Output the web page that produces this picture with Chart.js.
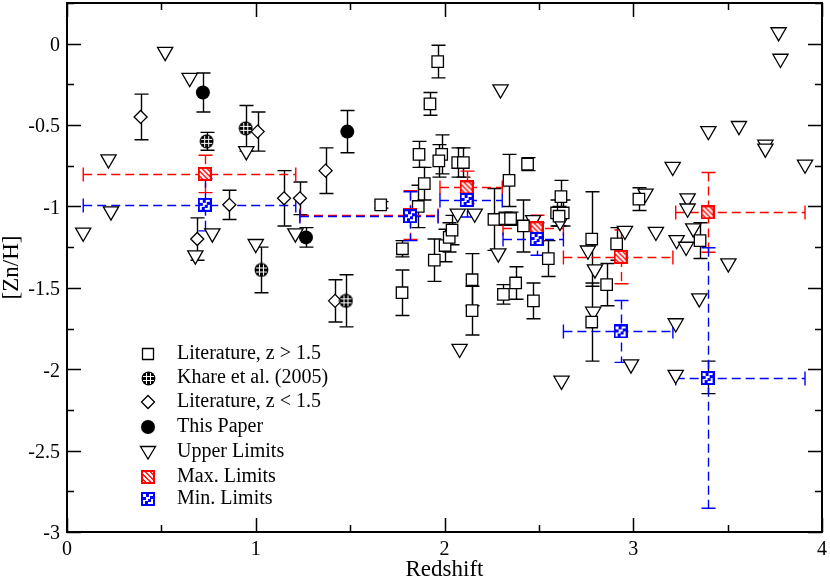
<!DOCTYPE html>
<html><head><meta charset="utf-8">
<script src="https://cdn.jsdelivr.net/npm/chart.js@4.4.0/dist/chart.umd.min.js"></script>
<style>html,body{margin:0;padding:0;background:#fff;}#wrap{width:830px;height:581px;}</style>
</head><body><div id="wrap"><canvas id="c" width="830" height="581"></canvas></div>
<script>
// ---------- DATA ----------
// Literature, z > 1.5 (squares): redshift, [Zn/H], error
const litHiX   = [1.964,1.923,1.865,1.985,1.970,2.070,2.100,2.440,2.342,1.893,1.861,1.662,1.777,1.946,2.003,2.025,2.040,2.262,2.320,2.350,2.418,2.550,2.617,2.594,2.629,2.607,2.146,2.146,1.775,2.312,2.377,2.471,2.780,2.780,2.912,2.859,3.030,3.354,3.394];
const litHiY   = [-0.11,-0.37,-0.68,-0.68,-0.72,-0.73,-0.73,-0.74,-0.84,-0.86,-1.00,-0.99,-1.26,-1.33,-1.24,-1.19,-1.145,-1.08,-1.075,-1.075,-1.12,-1.32,-0.94,-1.04,-1.04,-1.06,-1.45,-1.64,-1.53,-1.54,-1.47,-1.58,-1.20,-1.71,-1.23,-1.48,-0.955,-1.21,-2.05];
const litHiErr = [0.10,0.07,0.08,0.12,0.10,0.09,0.09,0.04,0.16,0.10,0.13,0.02,0.05,0.13,0.10,0.09,0.09,0.19,0.04,0.04,0.16,0.11,0.10,0.08,0.08,0.06,0.16,0.15,0.14,0.06,0.10,0.11,0.29,0.24,0.10,0.13,0.07,0.11,0.10];
// Khare et al. (2005)
const khareX   = [0.740,0.947,1.030,1.478];
const khareY   = [-0.60,-0.52,-1.39,-1.58];
const khareErr = [0.055,0.14,0.14,0.16];
// Literature, z < 1.5 (diamonds)
const litLoX   = [0.39,1.01,0.86,1.15,1.234,1.37,0.69,1.42];
const litLoY   = [-0.45,-0.54,-0.99,-0.95,-0.95,-0.78,-1.20,-1.58];
const litLoErr = [0.14,0.12,0.09,0.17,0.10,0.14,0.13,0.13];
// This Paper
const paperX   = [0.72,1.266,1.485];
const paperY   = [-0.30,-1.19,-0.54];
const paperErr = [0.12,0.06,0.13];
// Upper limits (triangles)
const upX = [0.086,0.22,0.233,0.52,0.65,0.68,0.77,0.95,1.00,1.21,2.297,2.07,2.16,2.285,2.08,2.47,2.612,2.62,2.76,2.797,2.788,2.956,2.988,3.065,3.12,3.23,3.28,3.318,3.288,3.288,3.225,3.225,3.35,3.504,3.209,3.398,3.56,3.70,3.70,3.91,3.77,3.78];
const upY = [-1.16,-0.71,-1.03,-0.05,-0.21,-1.30,-1.165,-0.66,-1.23,-1.165,-0.28,-1.043,-1.043,-1.288,-1.874,-1.083,-1.094,-2.07,-1.27,-1.386,-1.646,-1.149,-1.97,-0.92,-1.155,-1.206,-1.247,-1.134,-0.95,-1.012,-1.717,-2.034,-1.564,-1.349,-0.756,-0.536,-0.505,-0.62,-0.644,-0.742,0.071,-0.092];
// Max. limits (binned): centre, bin edges, error
const maxX   = [0.73,1.817,2.117,2.488,2.933,3.394];
const maxY   = [-0.80,-1.053,-0.883,-1.134,-1.31,-1.036];
const maxXLo = [0.086,1.234,1.976,2.31,2.63,3.225];
const maxXHi = [1.212,1.966,2.306,2.63,3.21,3.91];
const maxErr = [0.115,0.15,0.10,0.08,0.165,0.245];
// Min. limits (binned)
const minX   = [0.73,1.817,2.117,2.488,2.933,3.394];
const minY   = [-0.99,-1.06,-0.96,-1.20,-1.768,-2.054];
const minXLo = [0.086,1.234,1.976,2.31,2.63,3.225];
const minXHi = [1.212,1.966,2.306,2.63,3.21,3.91];
const minErr = [0.16,0.15,0.105,0.10,0.19,0.80];
// Axis ticks
const xTicks = [0,1,2,3,4];
const yTicks = [0,-0.5,-1,-1.5,-2,-2.5,-3];
const legendLabels = ['Literature, z > 1.5','Khare et al. (2005)','Literature, z < 1.5','This Paper','Upper Limits','Max. Limits','Min. Limits'];

// ---------- MARKER IMAGES ----------
function mk(w,h,fn){const c=document.createElement('canvas');c.width=w;c.height=h;const g=c.getContext('2d');fn(g);return c;}
const imgKhare = mk(15,15,g=>{g.beginPath();g.arc(7.5,7.5,6.9,0,Math.PI*2);g.fillStyle='#000';g.fill();g.fillStyle='#fff';[5,9].forEach(v=>{g.fillRect(v,2,1,11);g.fillRect(2,v,11,1);});});
const imgMax = mk(14,14,g=>{g.fillStyle='#ff0000';g.fillRect(0,0,14,14);g.save();g.beginPath();g.rect(2,2,10,10);g.clip();g.strokeStyle='#fff';g.lineWidth=2.2;g.beginPath();for(let k=-10;k<=10;k+=5){g.moveTo(k,0);g.lineTo(k+14,14);}g.stroke();g.restore();});
const imgMin = mk(14,14,g=>{g.fillStyle='#0000ff';g.fillRect(0,0,14,14);g.fillStyle='#fff';g.fillRect(2,2,10,10);g.fillStyle='#0000ff';[[2,5],[5,2],[7,7],[9,4],[4,9]].forEach(p=>g.fillRect(p[0],p[1],3,3));});

function pts(xs,ys){return xs.map((x,i)=>({x:x,y:ys[i]}));}

// ---------- PLUGINS ----------
const errPlugin = {
  id:'errbars',
  beforeDatasetsDraw(chart){
    const ctx=chart.ctx, xs=chart.scales.x, ys=chart.scales.y, a=chart.chartArea;
    ctx.save();
    ctx.beginPath();ctx.rect(a.left,a.top,a.right-a.left,a.bottom-a.top);ctx.clip();
    const cap=7;
    function vbar(x,y,e,color,dash){
      const px=Math.round(xs.getPixelForValue(x))+0.5, p1=ys.getPixelForValue(y+e), p2=ys.getPixelForValue(y-e);
      ctx.strokeStyle=color;ctx.lineWidth=1.4;
      ctx.setLineDash(dash||[]);ctx.beginPath();ctx.moveTo(px,p1);ctx.lineTo(px,p2);ctx.stroke();
      ctx.setLineDash([]);ctx.beginPath();ctx.moveTo(px-cap,p1);ctx.lineTo(px+cap,p1);ctx.moveTo(px-cap,p2);ctx.lineTo(px+cap,p2);ctx.stroke();
    }
    function hbar(y,lo,hi,color){
      const py=Math.round(ys.getPixelForValue(y))+0.5, q1=xs.getPixelForValue(lo), q2=xs.getPixelForValue(hi);
      ctx.strokeStyle=color;ctx.lineWidth=1.4;
      ctx.setLineDash([9,5]);ctx.beginPath();ctx.moveTo(q1,py);ctx.lineTo(q2,py);ctx.stroke();
      ctx.setLineDash([]);ctx.beginPath();ctx.moveTo(q1,py-cap);ctx.lineTo(q1,py+cap);ctx.moveTo(q2,py-cap);ctx.lineTo(q2,py+cap);ctx.stroke();
    }
    litHiX.forEach((x,i)=>vbar(x,litHiY[i],litHiErr[i],'#000'));
    khareX.forEach((x,i)=>vbar(x,khareY[i],khareErr[i],'#000'));
    litLoX.forEach((x,i)=>vbar(x,litLoY[i],litLoErr[i],'#000'));
    paperX.forEach((x,i)=>vbar(x,paperY[i],paperErr[i],'#000'));
    maxX.forEach((x,i)=>{hbar(maxY[i],maxXLo[i],maxXHi[i],'#ff0000');vbar(x,maxY[i],maxErr[i],'#ff0000',[9,5]);});
    minX.forEach((x,i)=>{hbar(minY[i],minXLo[i],minXHi[i],'#0000ff');vbar(x,minY[i],minErr[i],'#0000ff',[9,5]);});
    ctx.restore();
  }
};
function drawSym(ctx,kind,x,y){
  ctx.save();ctx.lineWidth=1.3;ctx.strokeStyle='#000';ctx.fillStyle='#fff';ctx.beginPath();
  if(kind==='sq'){ctx.rect(x-5.5,y-5.5,11,11);ctx.fill();ctx.stroke();}
  else if(kind==='di'){ctx.moveTo(x,y-6.5);ctx.lineTo(x+6.5,y);ctx.lineTo(x,y+6.5);ctx.lineTo(x-6.5,y);ctx.closePath();ctx.fill();ctx.stroke();}
  else if(kind==='ci'){ctx.arc(x,y,7,0,Math.PI*2);ctx.fillStyle='#000';ctx.fill();}
  else if(kind==='tr'){ctx.moveTo(x-7.5,y-5.5);ctx.lineTo(x+7.5,y-5.5);ctx.lineTo(x,y+7);ctx.closePath();ctx.fill();ctx.stroke();}
  ctx.restore();
}
const framePlugin = {
  id:'frame',
  afterDatasetsDraw(chart){
    const ctx=chart.ctx, xs=chart.scales.x, ys=chart.scales.y, a=chart.chartArea;
    ctx.save();ctx.strokeStyle='#000';ctx.lineWidth=1.5;ctx.beginPath();
    for(let v=0;v<=4.0001;v+=0.5){const px=Math.round(xs.getPixelForValue(v))+0.5;const L=(Math.abs(v-Math.round(v))<1e-6)?14:7;
      ctx.moveTo(px,a.bottom);ctx.lineTo(px,a.bottom-L);ctx.moveTo(px,a.top);ctx.lineTo(px,a.top+L);}
    for(let v=-3;v<=0.2501;v+=0.25){const py=Math.round(ys.getPixelForValue(v))+0.5;const L=(Math.abs(v*2-Math.round(v*2))<1e-6)?14:7;
      ctx.moveTo(a.left,py);ctx.lineTo(a.left+L,py);ctx.moveTo(a.right,py);ctx.lineTo(a.right-L,py);}
    ctx.stroke();
    ctx.lineWidth=2;ctx.strokeRect(a.left,a.top,a.right-a.left,a.bottom-a.top);
    // tick labels
    ctx.font='20px "Liberation Serif", "Times New Roman", serif';ctx.fillStyle='#000';ctx.textBaseline='alphabetic';
    ctx.textAlign='center';
    xTicks.forEach(v=>ctx.fillText(String(v),xs.getPixelForValue(v),a.bottom+23));
    ctx.textAlign='right';
    yTicks.forEach(v=>ctx.fillText(String(v),a.left-7,ys.getPixelForValue(v)+7.4));
    // legend
    const syms=['sq',imgKhare,'di','ci','tr',imgMax,imgMin];
    const rows=[354,378,402,427,452,477,499];
    syms.forEach((s,i)=>{ if(typeof s==='string') drawSym(ctx,s,148,rows[i]); else ctx.drawImage(s,Math.round(148-s.width/2),Math.round(rows[i]-s.height/2)); });
    ctx.textBaseline='middle';ctx.textAlign='left';
    legendLabels.forEach((t,i)=>ctx.fillText(t,177,rows[i]));
    ctx.restore();
  }
};

const common = {showLine:false,pointBorderWidth:1.3,pointBorderColor:'#000',pointBackgroundColor:'#fff'};
new Chart(document.getElementById('c'),{
  type:'scatter',
  data:{datasets:[
    Object.assign({},common,{label:legendLabels[6],data:pts(minX,minY),pointStyle:imgMin,pointRadius:6}),
    Object.assign({},common,{label:legendLabels[5],data:pts(maxX,maxY),pointStyle:imgMax,pointRadius:6}),
    Object.assign({},common,{label:legendLabels[3],data:pts(paperX,paperY),pointStyle:'circle',pointRadius:7,pointBorderWidth:0,pointBackgroundColor:'#000'}),
    Object.assign({},common,{label:legendLabels[1],data:pts(khareX,khareY),pointStyle:imgKhare,pointRadius:6}),
    Object.assign({},common,{label:legendLabels[2],data:pts(litLoX,litLoY),pointStyle:'rectRot',pointRadius:6.5}),
    Object.assign({},common,{label:legendLabels[0],data:pts(litHiX,litHiY),pointStyle:'rect',pointRadius:8.1}),
    Object.assign({},common,{label:legendLabels[4],data:pts(upX,upY),pointStyle:'triangle',pointRotation:180,pointRadius:8.8})
  ]},
  options:{
    responsive:false,animation:false,events:[],
    layout:{autoPadding:false,padding:{top:3,right:8,left:0,bottom:0}},
    plugins:{legend:{display:false},tooltip:{enabled:false}},
    scales:{
      x:{type:'linear',min:0,max:4,
        afterFit(s){s.height=49;},
        grid:{display:false},border:{display:false},
        ticks:{display:false},
        title:{display:true,text:'Redshift',color:'#000',font:{family:'"Liberation Serif"',size:23,lineHeight:1},padding:{top:0,bottom:0}}},
      y:{type:'linear',min:-3,max:0.25,
        afterFit(s){s.width=67;},
        grid:{display:false},border:{display:false},
        ticks:{display:false},
        title:{display:true,text:'[Zn/H]',color:'#000',font:{family:'"Liberation Serif"',size:23,lineHeight:1},padding:{top:0,bottom:0}}}
    }
  },
  plugins:[errPlugin,framePlugin]
});
</script></body></html>
